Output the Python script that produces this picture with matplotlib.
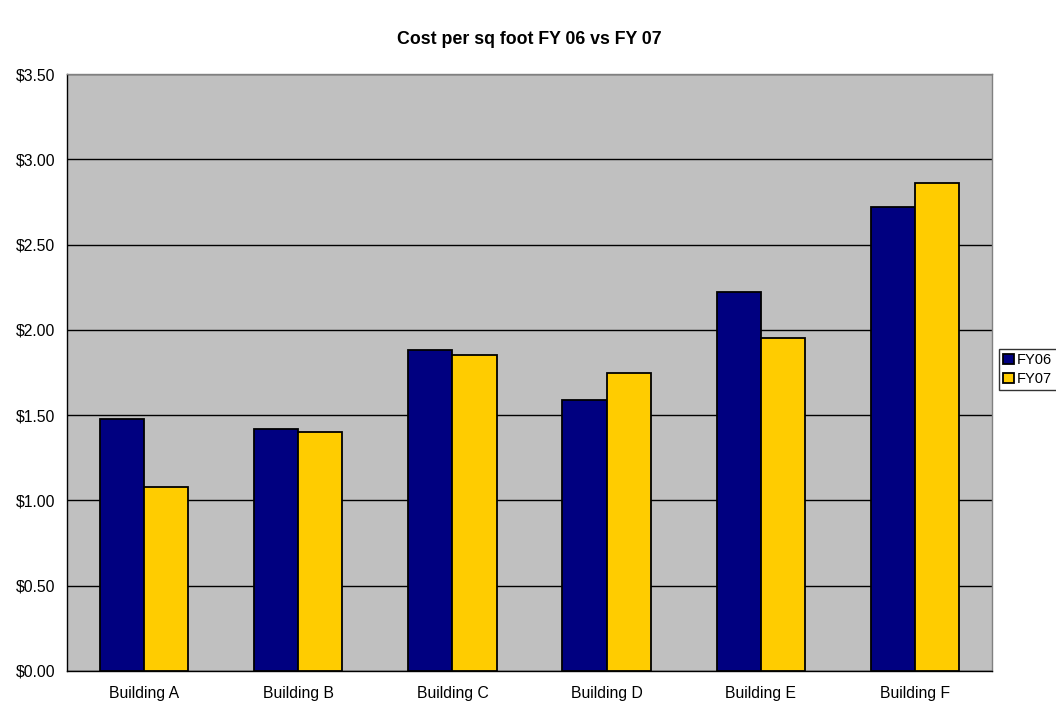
import matplotlib.pyplot as plt
import numpy as np
from matplotlib.ticker import FuncFormatter

# --- Data ---
buildings = ["Building A", "Building B", "Building C", "Building D", "Building E", "Building F"]
fy06 = [1.48, 1.42, 1.88, 1.59, 2.22, 2.72]
fy07 = [1.08, 1.40, 1.85, 1.75, 1.95, 2.86]
series_names = ["FY06", "FY07"]

plt.rcParams['font.family'] = ['Liberation Sans', 'DejaVu Sans']

fig = plt.figure(figsize=(10.56, 7.03), dpi=100)
W, H = 1056, 703
ax = fig.add_axes([67 / W, 1 - 671 / H, (992 - 67) / W, (671 - 74) / H])
ax.set_facecolor("#C0C0C0")

x = np.arange(len(buildings))
bar_width = 0.286

ax.bar(x - bar_width / 2, fy06, width=bar_width, color="#000080",
       edgecolor="black", linewidth=1.3, label=series_names[0], zorder=3)
ax.bar(x + bar_width / 2, fy07, width=bar_width, color="#FFCC00",
       edgecolor="black", linewidth=1.3, label=series_names[1], zorder=3)

ax.set_xlim(-0.5, len(buildings) - 0.5)
ax.set_ylim(0, 3.5)
ax.set_yticks(np.arange(0, 3.51, 0.5))
ax.yaxis.set_major_formatter(FuncFormatter(lambda v, p: f"${v:.2f}"))
ax.set_xticks(x)
ax.set_xticklabels(buildings)
ax.tick_params(axis='both', length=0, labelsize=11.3)
ax.tick_params(axis='y', pad=8.5)
ax.tick_params(axis='x', pad=11)

ax.grid(axis='y', color='black', linewidth=1, zorder=1)
ax.set_axisbelow(True)

for side in ("top", "right"):
    ax.spines[side].set_color("#808080")
for side in ("left", "bottom"):
    ax.spines[side].set_color("black")
for s in ax.spines.values():
    s.set_linewidth(1)

fig.text(529 / W, 1 - 40 / H, "Cost per sq foot FY 06 vs FY 07",
         ha='center', va='center', fontsize=12.8, fontweight='bold')

# legend kept just inside the right edge so its labels are not cut off
leg = fig.legend(loc='upper left', bbox_to_anchor=(999 / W, 1 - 349 / H),
                 fontsize=10.5, frameon=True, fancybox=False,
                 handlelength=0.7, handleheight=0.7, handletextpad=0.25,
                 borderpad=0.3, labelspacing=0.3, borderaxespad=0)
leg.get_frame().set_edgecolor("black")
leg.get_frame().set_linewidth(1)

plt.savefig("out.png", dpi=100)
